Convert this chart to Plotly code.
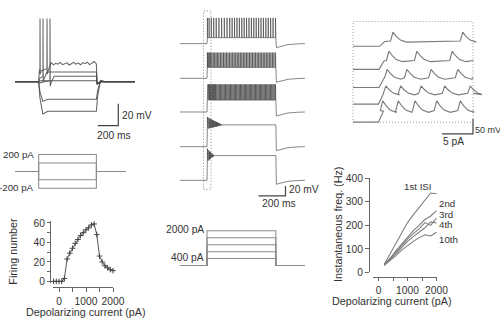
import plotly.graph_objects as go

# Reference canvas is 500x320; the figure is rendered slightly larger because the
# page capture shrinks it by about 2.5 %.
W, H = 500, 320
SCALE = 1.025
FIG_W, FIG_H = round(W * SCALE), round(H * SCALE)
FONT = "Liberation Sans, Arial, Helvetica, sans-serif"
TXT = "#333333"

# ======================= DATA =======================
# Panel A: membrane potential responses to -200..+200 pA steps (ms, mV)
A_STEP_MS = [230, 790]
A_END_MS = 1165
A_REST_MV = -70
A_LEVEL_MV = [-54, -61, -65, -69, -86, -97]
A_SAG_MV = [None, None, None, None, -88, -99.5]
A_SPIKES_MS = [[243, 311], [272], [340], [], [], []]
A_SPIKE_PEAK_MV = -12
A_TOP_WIGGLE_MV = [1.5, -0.5, 1.0, 0.2, 1.8, -0.3, 0.9, 1.4, -0.6, 0.5, 1.9,
                   0.1, 1.1, -0.4, 1.6, 0.6, 2.0, -0.2, 1.2, 2.6, 0.3]
A_CMD_PA = [200, 100, -100, -200]
A_CMD_END_MS = 1075

# Firing number vs depolarizing current
FIRE_I_PA = [-200, -100, 0, 100, 200, 300, 400, 500, 600, 700, 800, 900,
             1000, 1100, 1200, 1300, 1400, 1500, 1600, 1700, 1800, 1900, 2000]
FIRE_N = [0, 0, 0, 0, 3, 23, 29, 34, 39, 43, 47, 50,
          53, 55, 58, 59, 48, 26, 20, 16, 14, 12, 11]

# Instantaneous frequency vs depolarizing current
FREQ_I_PA = [200, 400, 600, 800, 1000, 1200, 1400, 1600, 1800, 2000]
FREQ_1ST_HZ = [35, 80, 125, 170, 212, 245, 275, 305, 338, 335]
FREQ_2ND_HZ = [33, 60, 92, 122, 152, 178, 200, 225, 240, 263]
FREQ_3RD_HZ = [32, 57, 86, 114, 142, 165, 185, 212, 200, 231]
FREQ_4TH_HZ = [31, 54, 80, 106, 132, 152, 172, 190, 215, 210]
FREQ_10TH_HZ = [30, 50, 72, 95, 115, 132, 148, 160, 155, 171]
FREQ_LABELS = ["1st ISI", "2nd", "3rd", "4th", "10th"]

# Panel B: responses to 400..2000 pA steps
B_CMD_PA = [400, 800, 1200, 1600, 2000]
B_STEP_MS = [200, 710]
B_END_MS = 925
B_REST_MV = -70
B_PEAK_MV = [-18, -18, -14, -10, -6]
B_TROUGH_MV = [-58, -48, -46, -34, -32]
B_BLOCK_MV = [None, None, None, -26, -20]
B_AHP_MV = -78
B_LATENCY_MS = 3

# Panel C: expanded view of step onsets
C_SPIKES_MS = [[6.45, 17.7], [5.8, 10.3, 16.0], [5.5, 8.7, 12.6, 16.9],
               [5.3, 7.7, 11.0, 14.8, 18.9], [4.8, 7.3, 10.0, 13.5, 17.3]]
C_ONSET_MS = [4.3, 4.2, 4.2, 4.1, 4.1]
C_END_MS = 19.4
C_REST_MV = -70
C_PRE_MV = [-52, -40, -37, -34, -31]
C_PEAK_MV = [-22, -9, -9, -9, 2]
C_TROUGH_MV = [-56, -44, -42, -39, -37]

# ======================= LAYOUT (reference pixels) =======================
B_BASE_PX = [39, 74, 108, 143, 177]
C_BASE_PX = [41.7, 65, 83.3, 100, 118.3]

layout_axes = {}
n_axes = [0]


def make_axes(box, xmap, ymap, visible=False):
    n_axes[0] += 1
    n = n_axes[0]
    sfx = "" if n == 1 else str(n)
    x0, x1, y0, y1 = box
    xpx, xval, xs = xmap
    ypx, yval, ys = ymap
    xr = [xval + (x0 - xpx) / xs, xval + (x1 - xpx) / xs]
    yr = [yval - (y1 - ypx) / ys, yval - (y0 - ypx) / ys]
    common = dict(showgrid=False, zeroline=False, fixedrange=True)
    layout_axes["xaxis" + sfx] = dict(domain=[x0 / W, x1 / W], range=xr,
                                      anchor="y" + sfx, visible=visible, **common)
    layout_axes["yaxis" + sfx] = dict(domain=[1 - y1 / H, 1 - y0 / H], range=yr,
                                      anchor="x" + sfx, visible=visible, **common)

    def to_data(px, py):
        return xval + (px - xpx) / xs, yval - (py - ypx) / ys
    return "x" + sfx, "y" + sfx, to_data


fig = go.Figure()
annotations = []
shapes = []


def line(x, y, ax, color, width=1.0, **kw):
    fig.add_trace(go.Scatter(x=x, y=y, xaxis=ax[0], yaxis=ax[1], mode="lines",
                             line=dict(color=color, width=width * SCALE),
                             hoverinfo="skip", showlegend=False, **kw))


def txt(s, px, py, anchor="left", size=10, angle=0):
    annotations.append(dict(text=s, x=px / W, y=1 - py / H, xref="paper", yref="paper",
                            xanchor=anchor, yanchor="middle", showarrow=False,
                            textangle=angle, borderpad=0,
                            font=dict(family=FONT, size=size * SCALE, color=TXT)))


def scalebar(ax, to_data, corner_px, len_x, len_y, color="#444"):
    cx, cy = to_data(*corner_px)
    line([cx - len_x, cx, cx], [cy, cy, cy + len_y], ax, color, 1.2)


# ---------------- Panel A ----------------
axA = make_axes((10, 145, 0, 130), (15, 0, 0.103), (77.5, A_REST_MV, 1.1))


def build_a(k):
    on, off = A_STEP_MS
    rest = A_REST_MV
    lvl = A_LEVEL_MV[k]
    t, v = [0, on], [rest, rest]
    spikes = A_SPIKES_MS[k]
    if spikes:
        t.append(on + 6); v.append(lvl - 6)
        for ts in spikes:
            t += [ts - 1, ts, ts + 2, ts + 10]
            v += [lvl - 4, A_SPIKE_PEAK_MV, lvl - 9, lvl - 6]
        last = spikes[-1] + 40
        if k == 0:
            n = len(A_TOP_WIGGLE_MV)
            for i, w in enumerate(A_TOP_WIGGLE_MV):
                t.append(last + (off - last) * i / (n - 1)); v.append(lvl + w)
        else:
            t += [last, off]; v += [lvl, lvl]
    elif A_SAG_MV[k] is not None:
        sag = A_SAG_MV[k]
        t += [on + 12, on + 40, on + 90, off]
        v += [(rest + sag) / 2, sag, lvl, lvl]
    else:
        t += [on + 10, off]; v += [lvl, lvl]
    if lvl < rest - 5:
        t += [off + 12, off + 40, off + 90]; v += [(lvl + rest) / 2, rest + 1, rest]
    else:
        t += [off + 8, off + 40]; v += [rest - 2, rest]
    t.append(A_END_MS); v.append(rest)
    return t, v


for k in range(len(A_LEVEL_MV)):
    t, v = build_a(k)
    line(t, v, axA, "rgba(70,70,70,0.85)", 1.0)
scalebar(axA, axA[2], (118.3, 121.7), 200, 20)
txt("20 mV", 121, 112)
txt("200 ms", 96, 132)

# ---------------- Panel A command ----------------
axAc = make_axes((0, 145, 140, 195), (15, 0, 0.103), (168, 0, 0.085))
for lvl in A_CMD_PA:
    on, off = A_STEP_MS
    line([0, on, on, off, off, A_CMD_END_MS], [0, 0, lvl, lvl, 0, 0], axAc, "#8a8a8a", 1.0)
txt("200 pA", 35, 151, anchor="right", size=9.5)
txt("-200 pA", 35, 184.5, anchor="right", size=9.5)

# ---------------- Firing number ----------------
axF = make_axes((53, 113, 218, 281), (59, 0, 0.027), (279, 0, 59 / 60), visible=True)
tickfont = dict(family=FONT, size=10 * SCALE, color=TXT)
layout_axes["xaxis" + axF[0][1:]].update(
    anchor="free", position=1 - 285 / H, showline=True, linecolor="#666", linewidth=1,
    ticks="outside", ticklen=4, tickcolor="#666", tickmode="array",
    tickvals=[0, 500, 1000, 1500, 2000], ticktext=["0", "", "1000", "", "2000"],
    tickfont=tickfont)
layout_axes["yaxis" + axF[1][1:]].update(
    anchor="free", position=50 / W, showline=True, linecolor="#666", linewidth=1,
    ticks="outside", ticklen=3, tickcolor="#666", tickmode="array",
    tickvals=[0, 10, 20, 30, 40, 50, 60], ticktext=["0", "", "20", "", "40", "", "60"],
    tickfont=tickfont)
fig.add_trace(go.Scatter(x=FIRE_I_PA, y=FIRE_N, xaxis=axF[0], yaxis=axF[1],
                         mode="lines+markers", cliponaxis=False,
                         line=dict(color="#555", width=1),
                         marker=dict(symbol="cross-thin", size=4, line=dict(color="#444", width=1)),
                         hoverinfo="skip", showlegend=False))
txt("Firing number", 13, 249, anchor="center", size=10.5, angle=-90)
txt("Depolarizing current (pA)", 86, 310, anchor="center", size=10.5)

# ---------------- Panel B traces ----------------


def b_spike_times(k):
    I = B_CMD_PA[k]
    j = FREQ_I_PA.index(I)
    n = FIRE_N[FIRE_I_PA.index(I)]
    isis = [1000 / FREQ_1ST_HZ[j], 1000 / FREQ_2ND_HZ[j],
            1000 / FREQ_3RD_HZ[j], 1000 / FREQ_4TH_HZ[j]]
    late = 1000 / FREQ_10TH_HZ[j]
    on, off = B_STEP_MS
    t = on + B_LATENCY_MS
    times = []
    i = 0
    while len(times) < n and t < off - 2:
        times.append(t)
        if B_BLOCK_MV[k] is None and i >= 9:
            # remaining spikes share the rest of the step
            late = (off - 3 - t) / max(n - len(times), 1)
        t += isis[i] if i < 4 else late
        i += 1
    return times


axB_list = []
for k in range(5):
    axB = make_axes((175, 312, 0, 205), (180, 0, 0.135), (B_BASE_PX[k], B_REST_MV, 0.5))
    axB_list.append(axB)
    on, off = B_STEP_MS
    rest = B_REST_MV
    t, v = [0, on], [rest, rest]
    sp = b_spike_times(k)
    blk = B_BLOCK_MV[k]
    n = len(sp)
    for i, ts in enumerate(sp):
        f = i / (n - 1) if (blk is not None and n > 1) else 0
        pk = B_PEAK_MV[k] + ((blk - B_PEAK_MV[k]) * f if blk is not None else 0)
        tr = B_TROUGH_MV[k] + ((blk - B_TROUGH_MV[k]) * f if blk is not None else 0)
        t += [ts - 0.5, ts, ts + 1.2]
        v += [tr, pk, tr]
    end_lvl = blk if blk is not None else B_TROUGH_MV[k]
    t += [off, off + 4, off + 30, off + 90, off + 160, B_END_MS]
    v += [end_lvl, B_AHP_MV, B_AHP_MV + 2, rest - 2, rest - 0.5, rest]
    line(t, v, axB, "#3a3a3a", 0.6)

scalebar(axB_list[-1], axB_list[-1][2], (285.5, 192.7), 200, 20)
txt("20 mV", 288, 186)
txt("200 ms", 261, 200)
shapes.append(dict(type="rect", xref="paper", yref="paper",
                   x0=203.5 / W, x1=211 / W, y0=1 - 186 / H, y1=1 - 6 / H,
                   line=dict(color="#888", width=1, dash="1px,2px")))

# ---------------- Panel B command ----------------
axBc = make_axes((175, 312, 220, 270), (180, 0, 0.135), (263, 0, 0.0175))
for lvl in B_CMD_PA:
    on, off = B_STEP_MS
    line([0, on, on, off, off, B_END_MS], [0, 0, lvl, lvl, 0, 0], axBc, "#8a8a8a", 1.0)
txt("2000 pA", 205, 227, anchor="right")
txt("400 pA", 205, 255, anchor="right")

# ---------------- Panel C (expanded onsets) ----------------
axC_list = []
for k in range(5):
    axC = make_axes((345, 482, 10, 140), (353, 0, 6.2), (C_BASE_PX[k], C_REST_MV, 0.3))
    axC_list.append(axC)
    pre, pk, tr = C_PRE_MV[k], C_PEAK_MV[k], C_TROUGH_MV[k]
    sp = C_SPIKES_MS[k]
    on = C_ONSET_MS[k]
    t = [0, on, on + 0.8]
    v = [C_REST_MV, C_REST_MV, pre - 2]
    for i, ts in enumerate(sp):
        t += [ts - 0.4, ts, ts + 0.5, ts + 1.2, ts + 2.2]
        v += [pre, pk, pk - 0.4 * (pk - tr), tr + 0.2 * (pk - tr), tr]
    t.append(C_END_MS); v.append(pre)
    line(t, v, axC, "#7a7a7a", 1.1)

shapes.append(dict(type="rect", xref="paper", yref="paper",
                   x0=353 / W, x1=473 / W, y0=1 - 118.3 / H, y1=1 - 16.7 / H,
                   line=dict(color="#999", width=1, dash="1px,2px")))
scalebar(axC_list[-1], axC_list[-1][2], (473, 130), 5, 50)
txt("50 mV", 474, 126, size=8.8)
txt("5 pA", 442, 138)

# ---------------- Instantaneous frequency ----------------
axQ = make_axes((373, 437, 175, 270), (378.5, 0, 0.029), (270, 0, 0.2375), visible=True)
layout_axes["xaxis" + axQ[0][1:]].update(
    anchor="free", position=1 - 275 / H, showline=True, linecolor="#666", linewidth=1,
    ticks="outside", ticklen=3, tickcolor="#666", tickmode="array",
    tickvals=[0, 500, 1000, 1500, 2000], ticktext=["0", "", "1000", "", "2000"],
    tickfont=tickfont)
layout_axes["yaxis" + axQ[1][1:]].update(
    anchor="free", position=369 / W, showline=True, linecolor="#666", linewidth=1,
    ticks="outside", ticklen=4, tickcolor="#666", tickmode="array",
    tickvals=[0, 100, 200, 300, 400], tickfont=tickfont)
for series in [FREQ_1ST_HZ, FREQ_2ND_HZ, FREQ_3RD_HZ, FREQ_4TH_HZ, FREQ_10TH_HZ]:
    line(FREQ_I_PA, series, axQ, "#7a7a7a", 1.0)
label_px = [(418, 183, "center"), (438, 200.5, "left"), (438, 211, "left"),
            (438, 221.5, "left"), (438, 237, "left")]
for lab, (px, py, anc) in zip(FREQ_LABELS, label_px):
    txt(lab, px, py, anchor=anc, size=9.5)
txt("Instantaneous freq. (Hz)", 338, 222, anchor="center", size=10.5, angle=-90)
txt("Depolarizing current (pA)", 392, 299, anchor="center", size=10.5)

fig.update_layout(width=FIG_W, height=FIG_H, margin=dict(l=0, r=0, t=0, b=0),
                  paper_bgcolor="white", plot_bgcolor="rgba(0,0,0,0)",
                  showlegend=False, annotations=annotations, shapes=shapes,
                  font=dict(family=FONT, size=10, color=TXT), **layout_axes)

fig.write_html("out.html", config={"displayModeBar": False, "staticPlot": True},
               post_script="document.body.style.margin='0';")
